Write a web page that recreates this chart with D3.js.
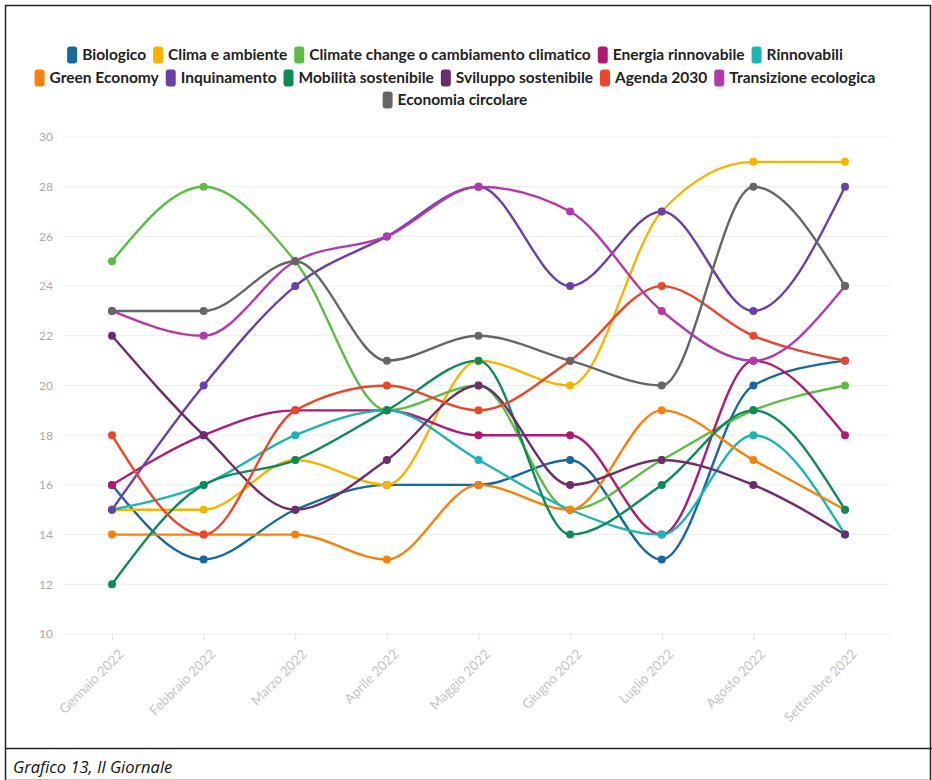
<!DOCTYPE html>
<html>
<head>
<meta charset="utf-8">
<script src="https://cdn.jsdelivr.net/npm/d3@7"></script>
<style>
  html, body { margin: 0; padding: 0; background: #fff; }
  svg { display: block; }
</style>
</head>
<body>
<svg id="chart" width="932" height="780"></svg>
<script>
// Months on the x axis
const months = ["Gennaio 2022", "Febbraio 2022", "Marzo 2022", "Aprile 2022", "Maggio 2022",
  "Giugno 2022", "Luglio 2022", "Agosto 2022", "Settembre 2022"];

// Y axis ticks
const yTicks = [10, 12, 14, 16, 18, 20, 22, 24, 26, 28, 30];

// Series names and colours (legend order)
const seriesNames = ["Biologico", "Clima e ambiente", "Climate change o cambiamento climatico",
  "Energia rinnovabile", "Rinnovabili", "Green Economy", "Inquinamento", "Mobilità sostenibile",
  "Sviluppo sostenibile", "Agenda 2030", "Transizione ecologica", "Economia circolare"];
const seriesColors = ["#17699c", "#f6b400", "#5dbb46", "#ae1a74", "#1db3b3", "#f6820d",
  "#6b3fa6", "#0e8a58", "#6b2d6b", "#e9462b", "#b23aab", "#666666"];

// Monthly values per series
const biologico      = [16, 13, 15, 16, 16, 17, 13, 20, 21];
const climaAmbiente  = [15, 15, 17, 16, 21, 20, 27, 29, 29];
const climateChange  = [25, 28, 25, 19, 20, 15, 17, 19, 20];
const energiaRinn    = [16, 18, 19, 19, 18, 18, 14, 21, 18];
const rinnovabili    = [15, 16, 18, 19, 17, 15, 14, 18, 14];
const greenEconomy   = [14, 14, 14, 13, 16, 15, 19, 17, 15];
const inquinamento   = [15, 20, 24, 26, 28, 24, 27, 23, 28];
const mobilita       = [12, 16, 17, 19, 21, 14, 16, 19, 15];
const sviluppo       = [22, 18, 15, 17, 20, 16, 17, 16, 14];
const agenda2030     = [18, 14, 19, 20, 19, 21, 24, 22, 21];
const transizione    = [23, 22, 25, 26, 28, 27, 23, 21, 24];
const economiaCirc   = [23, 23, 25, 21, 22, 21, 20, 28, 24];

const seriesValues = [biologico, climaAmbiente, climateChange, energiaRinn, rinnovabili,
  greenEconomy, inquinamento, mobilita, sviluppo, agenda2030, transizione, economiaCirc];

const legendRows = [
  [0, 1, 2, 3, 4],
  [5, 6, 7, 8, 9, 10],
  [11]
];

const caption = "Grafico 13, Il Giornale";

const svg = d3.select("#chart");
const W = 932, H = 780;

// Outer frame and caption cell
svg.append("rect").attr("x", 5.5).attr("y", 5.5).attr("width", W - 7).attr("height", H - 5)
  .attr("fill", "none").attr("stroke", "#222").attr("stroke-width", 1.5);
svg.append("line").attr("x1", 5).attr("x2", W).attr("y1", 748.5).attr("y2", 748.5)
  .attr("stroke", "#222").attr("stroke-width", 1.5);
svg.append("text").attr("x", 13).attr("y", 773)
  .attr("font-family", "'Open Sans', sans-serif").attr("font-style", "italic")
  .attr("font-size", 16.5).attr("fill", "#111").text(caption);

// Scales
const x = d3.scalePoint().domain(months).range([112, 845]);
const y = d3.scaleLinear().domain([10, 30]).range([634, 137]);
const gridLeft = 63, gridRight = 890;

// Gridlines
svg.append("g").selectAll("line").data(yTicks).join("line")
  .attr("x1", gridLeft).attr("x2", gridRight)
  .attr("y1", d => y(d)).attr("y2", d => y(d))
  .attr("stroke", "#ececec").attr("stroke-width", 1);

// Y axis
const yAxis = svg.append("g").attr("transform", `translate(${gridLeft},0)`)
  .call(d3.axisLeft(y).tickValues(yTicks).tickSize(0).tickPadding(10));
yAxis.select(".domain").remove();
yAxis.selectAll("text").attr("font-family", "Lato, sans-serif").attr("font-size", 12)
  .attr("fill", "#aaa");

// X axis (rotated labels)
const xAxis = svg.append("g").attr("transform", `translate(0,${y(10)})`)
  .call(d3.axisBottom(x).tickSize(6).tickPadding(4));
xAxis.select(".domain").remove();
xAxis.selectAll(".tick line").attr("stroke", "#e4e4e4");
xAxis.selectAll("text")
  .attr("font-family", "Lato, sans-serif").attr("font-size", 13.5).attr("fill", "#c4c4c4")
  .attr("text-anchor", "end").attr("dx", "0").attr("dy", "0")
  .attr("transform", "translate(5,14) rotate(-45)");

// Lines
const line = d3.line()
  .x((d, i) => x(months[i]))
  .y(d => y(d))
  .curve(d3.curveMonotoneX);

const seriesData = seriesNames.map((name, k) => ({ name, color: seriesColors[k], values: seriesValues[k] }));

const g = svg.append("g");
seriesData.forEach(s => {
  g.append("path").attr("d", line(s.values)).attr("fill", "none")
    .attr("stroke", s.color).attr("stroke-width", 2.4).attr("stroke-linejoin", "round");
});
seriesData.forEach(s => {
  g.append("g").selectAll("circle").data(s.values).join("circle")
    .attr("cx", (d, i) => x(months[i])).attr("cy", d => y(d))
    .attr("r", 4).attr("fill", s.color);
});

// Legend (centered rows)
const legendSize = 15.5;
const ctx = document.createElement("canvas").getContext("2d");
ctx.font = `bold ${legendSize}px Lato, sans-serif`;
const swW = 10, swH = 17, swGap = 5, itemGap = 7;
const rowY = [55, 78, 100];
const cx = 455;
const legend = svg.append("g");
legendRows.forEach((row, r) => {
  const widths = row.map(k => swW + swGap + ctx.measureText(seriesNames[k]).width);
  const total = d3.sum(widths) + itemGap * (row.length - 1);
  let xPos = cx - total / 2;
  row.forEach((k, j) => {
    legend.append("rect").attr("x", xPos).attr("y", rowY[r] - swH / 2)
      .attr("width", swW).attr("height", swH).attr("rx", 3)
      .attr("fill", seriesColors[k]);
    legend.append("text").attr("x", xPos + swW + swGap).attr("y", rowY[r])
      .attr("dy", "0.35em")
      .attr("font-family", "Lato, sans-serif").attr("font-weight", "bold")
      .attr("font-size", legendSize).attr("fill", "#222").text(seriesNames[k]);
    xPos += widths[j] + itemGap;
  });
});
</script>
</body>
</html>
